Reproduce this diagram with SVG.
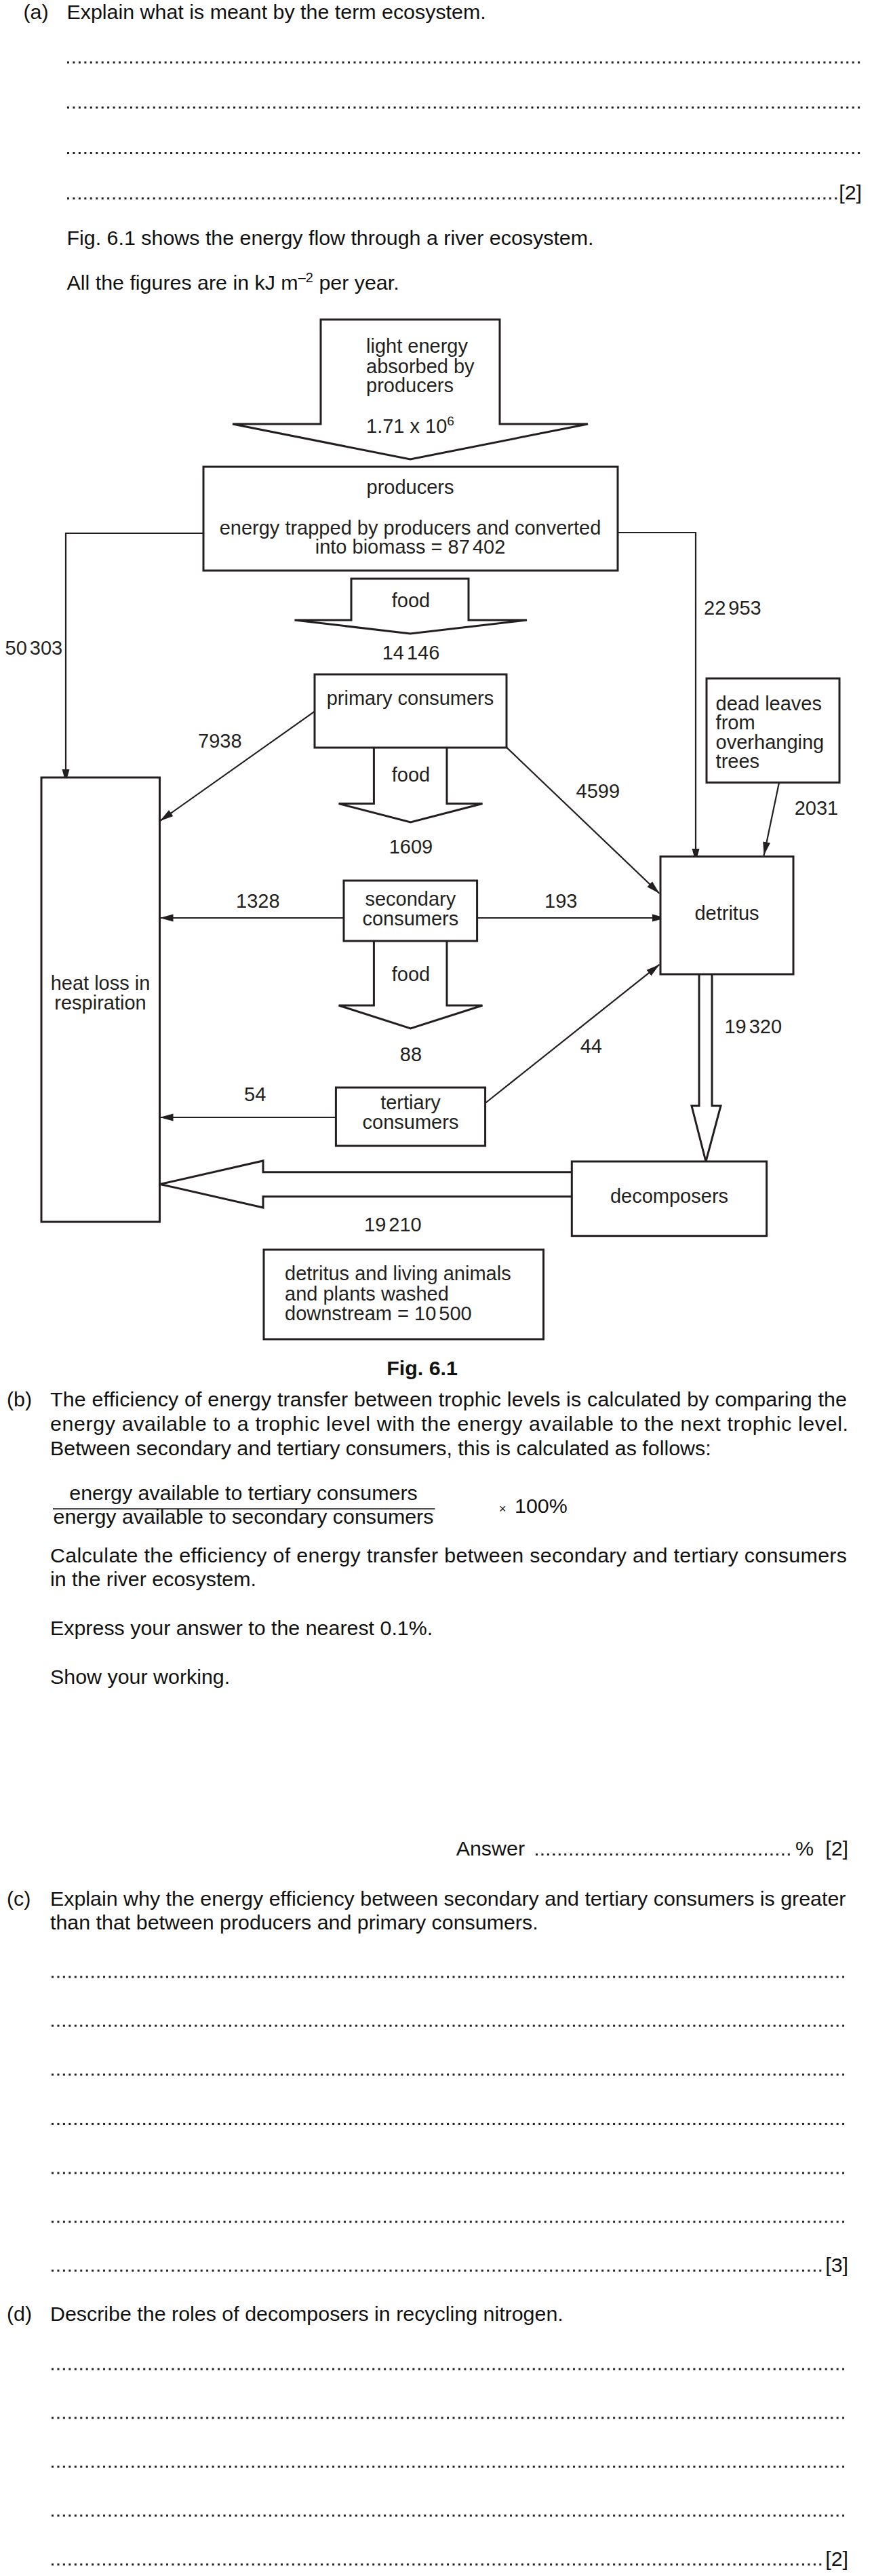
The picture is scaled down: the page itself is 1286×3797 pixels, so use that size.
<svg xmlns="http://www.w3.org/2000/svg" width="1286" height="3797" viewBox="0 0 1286 3797">
<defs>
<style>
.t{font-family:"Liberation Sans",Arial,sans-serif;font-size:30.4px;fill:#111}
.d{font-family:"Liberation Sans",Arial,sans-serif;font-size:29px;fill:#231f20}
.mid{text-anchor:middle}
.end{text-anchor:end}
.box{fill:#fff;stroke:#231f20;stroke-width:3}
.blk{fill:#fff;stroke:#231f20;stroke-width:3;stroke-linejoin:miter}
.ln{fill:none;stroke:#231f20;stroke-width:2.2}
.dots{fill:none;stroke:#222;stroke-width:3;stroke-dasharray:3 5.45}
</style>
<marker id="ah" markerUnits="userSpaceOnUse" markerWidth="22" markerHeight="12" refX="20" refY="6" orient="auto">
<path d="M0,0.5 L20,6 L0,11.5 z" fill="#231f20"/>
</marker>
</defs>
<rect width="1286" height="3797" fill="#fff"/>

<g id="part-a">
<text class="t" x="34.5" y="28">(a)</text>
<text class="t" x="98.5" y="28">Explain what is meant by the term ecosystem.</text>
<line class="dots" x1="99" y1="92" x2="1270" y2="92"/>
<line class="dots" x1="99" y1="158.5" x2="1270" y2="158.5"/>
<line class="dots" x1="99" y1="225.5" x2="1270" y2="225.5"/>
<line class="dots" x1="99" y1="292.5" x2="1240" y2="292.5"/>
<text class="t end" x="1271" y="294">[2]</text>
<text class="t" x="98.5" y="361">Fig. 6.1 shows the energy flow through a river ecosystem.</text>
<text class="t" x="98.5" y="427">All the figures are in kJ m<tspan font-size="20" dy="-11">–2</tspan><tspan dy="11"> per year.</tspan></text>
</g>

<g id="connectors">
<polyline class="ln" points="300,786 97,786 97,1154" marker-end="url(#ah)"/>
<polyline class="ln" points="911,785 1026,785 1026,1271" marker-end="url(#ah)"/>
<line class="ln" x1="464" y1="1048.6" x2="236" y2="1210" marker-end="url(#ah)"/>
<line class="ln" x1="747" y1="1101.6" x2="972.6" y2="1317" marker-end="url(#ah)"/>
<line class="ln" x1="507" y1="1353" x2="235.5" y2="1353" marker-end="url(#ah)"/>
<line class="ln" x1="703.6" y1="1353" x2="982" y2="1353" marker-end="url(#ah)"/>
<line class="ln" x1="495.4" y1="1647" x2="235.5" y2="1647" marker-end="url(#ah)"/>
<line class="ln" x1="715.6" y1="1626" x2="972.6" y2="1421.7" marker-end="url(#ah)"/>
<line class="ln" x1="1149" y1="1153.4" x2="1126.5" y2="1261" marker-end="url(#ah)"/>
<path class="blk" d="M691,853 V914 H777 L605,934 L434.5,914 H518 V853 Z"/>
<path class="blk" d="M551.4,1102 V1184.5 H499.6 L605.5,1212 L711.5,1184.5 H659 V1102"/>
<path class="blk" d="M551.4,1387 V1482 H499.6 L605.5,1516 L711.5,1482 H659 V1387"/>
<path class="blk" d="M1031,1436 V1630 H1020 L1041,1712 L1063,1630 H1050 V1436"/>
<path class="blk" d="M843,1727.7 H388 V1711 L236,1745.5 L388,1780 V1763.7 H843"/>
<text class="d" x="7.5" y="964.5" style="word-spacing:-4px">50 303</text>
<text class="d" x="1038" y="906" style="word-spacing:-4px">22 953</text>
<text class="d mid" x="606" y="895">food</text>
<text class="d mid" x="606" y="972" style="word-spacing:-4px">14 146</text>
<text class="d" x="292" y="1102">7938</text>
<text class="d" x="849.5" y="1176">4599</text>
<text class="d" x="1171.7" y="1201">2031</text>
<text class="d mid" x="606" y="1152">food</text>
<text class="d mid" x="606" y="1258">1609</text>
<text class="d" x="348" y="1337.5">1328</text>
<text class="d" x="803" y="1337.5">193</text>
<text class="d mid" x="606" y="1446">food</text>
<text class="d mid" x="606" y="1564">88</text>
<text class="d" x="360" y="1623">54</text>
<text class="d" x="855.7" y="1552">44</text>
<text class="d" x="1068.4" y="1523" style="word-spacing:-4px">19 320</text>
<text class="d" x="537" y="1815" style="word-spacing:-4px">19 210</text>
</g>

<g id="light-energy">
<path class="blk" d="M473,471 H737 V625 H867 L605,677 L343,625 H473 Z"/>
<text class="d" x="540" y="520">light energy</text>
<text class="d" x="540" y="550">absorbed by</text>
<text class="d" x="540" y="578">producers</text>
<text class="d" x="540" y="638">1.71 x 10<tspan font-size="19" dy="-11">6</tspan></text>
</g>

<g id="producers">
<rect class="box" x="300" y="688" width="611" height="153"/>
<text class="d mid" x="605" y="728">producers</text>
<text class="d mid" x="605" y="787.5">energy trapped by producers and converted</text>
<text class="d mid" x="605" y="816" style="word-spacing:0">into biomass = 87<tspan style="word-spacing:-4px"> 402</tspan></text>
</g>

<g id="primary-consumers">
<rect class="box" x="464" y="994" width="283" height="108"/>
<text class="d mid" x="605" y="1039">primary consumers</text>
</g>

<g id="dead-leaves">
<rect class="box" x="1042" y="1000" width="196" height="153.4"/>
<text class="d" x="1055.6" y="1047">dead leaves</text>
<text class="d" x="1055.6" y="1075">from</text>
<text class="d" x="1055.6" y="1104">overhanging</text>
<text class="d" x="1055.6" y="1132">trees</text>
</g>

<g id="heat-loss">
<rect class="box" x="61" y="1146" width="174.5" height="655"/>
<text class="d mid" x="148" y="1459">heat loss in</text>
<text class="d mid" x="148" y="1488">respiration</text>
</g>

<g id="secondary-consumers">
<rect class="box" x="507" y="1298" width="196.6" height="89"/>
<text class="d mid" x="605.3" y="1334.6">secondary</text>
<text class="d mid" x="605.3" y="1363.6">consumers</text>
</g>

<g id="detritus">
<rect class="box" x="974" y="1262.5" width="196" height="173.5"/>
<text class="d mid" x="1072" y="1356">detritus</text>
</g>

<g id="tertiary-consumers">
<rect class="box" x="495.4" y="1603" width="220.2" height="86"/>
<text class="d mid" x="605.5" y="1635">tertiary</text>
<text class="d mid" x="605.5" y="1664">consumers</text>
</g>

<g id="decomposers">
<rect class="box" x="843.3" y="1712" width="287.3" height="109.7"/>
<text class="d mid" x="987" y="1773">decomposers</text>
</g>

<g id="downstream">
<rect class="box" x="389" y="1842" width="412.5" height="132"/>
<text class="d" x="420" y="1887">detritus and living animals</text>
<text class="d" x="420" y="1916.5">and plants washed</text>
<text class="d" x="420" y="1945.5">downstream = 10<tspan style="word-spacing:-4px"> 500</tspan></text>
</g>

<g id="part-b">
<text class="t mid" x="622.6" y="2027" font-weight="bold">Fig. 6.1</text>
<text class="t" x="10" y="2073">(b)</text>
<text class="t" x="74" y="2073" textLength="1175" lengthAdjust="spacing">The efficiency of energy transfer between trophic levels is calculated by comparing the</text>
<text class="t" x="74" y="2109" textLength="1177" lengthAdjust="spacing">energy available to a trophic level with the energy available to the next trophic level.</text>
<text class="t" x="74" y="2145">Between secondary and tertiary consumers, this is calculated as follows:</text>
<text class="t mid" x="359" y="2210.7">energy available to tertiary consumers</text>
<line x1="78" y1="2224" x2="641.5" y2="2224" stroke="#111" stroke-width="1.5"/>
<text class="t mid" x="359" y="2246">energy available to secondary consumers</text>
<text class="t" x="736" y="2230" font-size="18" style="font-size:18px">×</text>
<text class="t" x="759" y="2230">100%</text>
<text class="t" x="74" y="2303" textLength="1175" lengthAdjust="spacing">Calculate the efficiency of energy transfer between secondary and tertiary consumers</text>
<text class="t" x="74" y="2338">in the river ecosystem.</text>
<text class="t" x="74" y="2410">Express your answer to the nearest 0.1%.</text>
<text class="t" x="74" y="2481.5">Show your working.</text>
<text class="t" x="672.7" y="2735">Answer</text>
<line class="dots" x1="790" y1="2733.5" x2="1169" y2="2733.5"/>
<text class="t" x="1173" y="2735">%</text>
<text class="t end" x="1251" y="2735">[2]</text>
</g>

<g id="part-c">
<text class="t" x="10" y="2808.5">(c)</text>
<text class="t" x="74" y="2808.5">Explain why the energy efficiency between secondary and tertiary consumers is greater</text>
<text class="t" x="74" y="2843.5">than that between producers and primary consumers.</text>
<line class="dots" x1="76" y1="2914" x2="1245" y2="2914"/>
<line class="dots" x1="76" y1="2986" x2="1245" y2="2986"/>
<line class="dots" x1="76" y1="3058" x2="1245" y2="3058"/>
<line class="dots" x1="76" y1="3130.5" x2="1245" y2="3130.5"/>
<line class="dots" x1="76" y1="3203" x2="1245" y2="3203"/>
<line class="dots" x1="76" y1="3275" x2="1245" y2="3275"/>
<line class="dots" x1="76" y1="3347" x2="1214" y2="3347"/>
<text class="t end" x="1251" y="3348.5">[3]</text>
</g>

<g id="part-d">
<text class="t" x="10" y="3421">(d)</text>
<text class="t" x="74" y="3421">Describe the roles of decomposers in recycling nitrogen.</text>
<line class="dots" x1="76" y1="3492" x2="1245" y2="3492"/>
<line class="dots" x1="76" y1="3564" x2="1245" y2="3564"/>
<line class="dots" x1="76" y1="3636" x2="1245" y2="3636"/>
<line class="dots" x1="76" y1="3708" x2="1245" y2="3708"/>
<line class="dots" x1="76" y1="3780" x2="1214" y2="3780"/>
<text class="t end" x="1251" y="3781.5">[2]</text>
</g>
</svg>
